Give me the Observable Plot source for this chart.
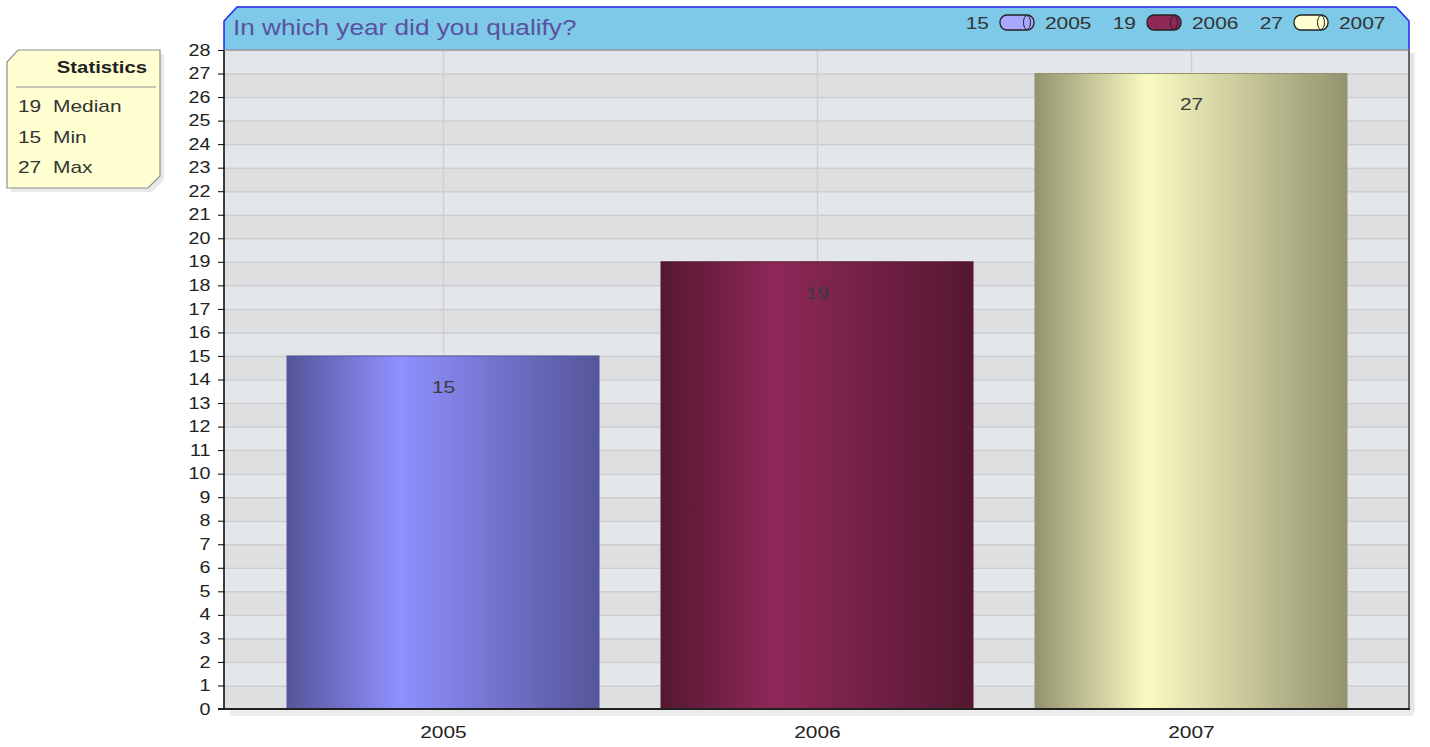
<!DOCTYPE html>
<html>
<head>
<meta charset="utf-8">
<script src="https://cdn.jsdelivr.net/npm/d3@7"></script>
<script src="https://cdn.jsdelivr.net/npm/@observablehq/plot@0.6"></script>
<style>
  html, body { margin: 0; padding: 0; background: #ffffff; }
  #chart svg { display: block; font-family: "Liberation Sans", Arial, sans-serif; }
</style>
</head>
<body>
<div id="chart"></div>
<script>
// ---- data ----
const years = ["2005", "2006", "2007"];
const counts = [15, 19, 27];
const barEdge = ["#55559a", "#541830", "#93936f"];
const barMid = ["#9090ff", "#8f2859", "#fafac2"];
const legendFill = ["#a8a8ff", "#8e2857", "#ffffd2"];
const statLabels = ["Median", "Min", "Max"];
const statValues = [19, 15, 27];
const yTicks = d3.range(0, 29);
const title = "In which year did you qualify?";
const statsTitle = "Statistics";

const data = years.map((y, i) => ({year: y, count: counts[i], i}));
const stripes = d3.range(0, 28).map(v => ({v}));

const W = 1430, H = 747;
const ML = 224, MR = 21, MT = 50, MB = 38;
const STRETCH = 1.23; // reference text is horizontally wide

const defsMark = () => {
  const ns = "http://www.w3.org/2000/svg";
  const defs = document.createElementNS(ns, "defs");
  years.forEach((y, i) => {
    const g = document.createElementNS(ns, "linearGradient");
    g.setAttribute("id", "g" + y);
    g.setAttribute("x1", "0"); g.setAttribute("x2", "1");
    g.setAttribute("y1", "0"); g.setAttribute("y2", "0");
    [[0, barEdge[i]], [0.36, barMid[i]], [1, barEdge[i]]].forEach(([o, c]) => {
      const s = document.createElementNS(ns, "stop");
      s.setAttribute("offset", o); s.setAttribute("stop-color", c);
      g.appendChild(s);
    });
    defs.appendChild(g);
  });
  return defs;
};

const plot = Plot.plot({
  width: W, height: H,
  marginLeft: ML, marginRight: MR, marginTop: MT, marginBottom: MB,
  style: {background: "transparent", fontFamily: "Liberation Sans, Arial, sans-serif", fontSize: "15px", color: "#333"},
  x: {domain: years, padding: 0.166, label: null},
  y: {domain: [0, 28], label: null},
  marks: [
    defsMark,
    Plot.rect(stripes, {y1: "v", y2: d => d.v + 1, fill: d => d.v % 2 === 0 ? "#dedfe1" : "#e4e7ea"}),
    Plot.ruleY(d3.range(1, 29), {stroke: "#cdcdcf", strokeWidth: 1.5}),
    Plot.ruleX(years, {stroke: "#cfcfd2", strokeWidth: 1.5}),
    ...data.map(d => Plot.barY([d], {x: "year", y: "count", fill: `url(#g${d.year})`, stroke: barEdge[d.i], strokeWidth: 1})),
    Plot.text(data, {x: "year", y: "count", text: d => String(d.count), dy: 31, fontSize: 17, fill: "#3a3a3a"}),
    Plot.axisY({ticks: yTicks, tickSize: 6, tickPadding: 8, tickFormat: d => String(d), stroke: "#000", fontSize: 16}),
    Plot.axisX({tickSize: 6, tickPadding: 10, stroke: "#000", fontSize: 17})
  ]
});

document.getElementById("chart").appendChild(plot);

// widen Plot's own texts horizontally around their anchor (reference text is wide)
function widen(sel) {
  sel.each(function() {
    const t = d3.select(this);
    let x = parseFloat(t.attr("x")); if (!isFinite(x)) x = 0;
    let y = parseFloat(t.attr("y")); if (!isFinite(y)) y = 0;
    const tr = t.attr("transform") || "";
    t.attr("transform", `${tr} translate(${x} ${y}) scale(${STRETCH} 1) translate(${-x} ${-y})`.trim());
  });
}

// ---- decorations ----
const svg = d3.select(plot);
svg.selectAll('[aria-label="y-axis tick label"]').attr("font-size", 16).attr("fill", "#222");
svg.selectAll('[aria-label="x-axis tick label"]').attr("font-size", 17).attr("fill", "#222");
widen(svg.selectAll("text"));
const x0 = ML, x1 = W - MR, yTop = MT, yBot = H - MB;

// right border with shadow
svg.append("line").attr("x1", x1 + 3).attr("x2", x1 + 3).attr("y1", yTop + 3).attr("y2", yBot + 4)
  .attr("stroke", "#e6e6e6").attr("stroke-width", 5);
svg.append("line").attr("x1", x0 + 6).attr("x2", x1 + 4).attr("y1", yBot + 4).attr("y2", yBot + 4)
  .attr("stroke", "#ececec").attr("stroke-width", 6);
svg.append("line").attr("x1", x1).attr("x2", x1).attr("y1", yTop).attr("y2", yBot)
  .attr("stroke", "#666").attr("stroke-width", 2);
// axes lines
svg.append("line").attr("x1", x0).attr("x2", x0).attr("y1", yTop).attr("y2", yBot + 1)
  .attr("stroke", "#000").attr("stroke-width", 1.5);
svg.append("line").attr("x1", x0 - 6).attr("x2", x1 + 1).attr("y1", yBot).attr("y2", yBot)
  .attr("stroke", "#222").attr("stroke-width", 2);

// helper for own texts: positioned by transform so the stretch is anchored
function addText(parent, x, y, str, size, anchor, fill, weight) {
  return parent.append("text")
    .attr("transform", `translate(${x},${y}) scale(${STRETCH},1)`)
    .attr("text-anchor", anchor).attr("font-size", size).attr("fill", fill)
    .attr("font-weight", weight || "normal").text(str);
}

// title band
const band = svg.append("g");
band.append("path")
  .attr("d", `M${x0},${yTop} L${x0},21 L${x0 + 13},7 L${x1 - 13},7 L${x1},21 L${x1},${yTop} Z`)
  .attr("fill", "#7ec8e8");
band.append("path")
  .attr("d", `M${x0},${yTop} L${x0},21 L${x0 + 13},7 L${x1 - 13},7 L${x1},21 L${x1},${yTop}`)
  .attr("fill", "none").attr("stroke", "#1f24f0").attr("stroke-width", 1.5);
band.append("line").attr("x1", x0).attr("x2", x1).attr("y1", yTop).attr("y2", yTop)
  .attr("stroke", "#8a8a8a").attr("stroke-width", 1.2);
addText(band, 233, 35, title, 21.3, "start", "#5a52a0");

// legend
const legX = [989, 1136, 1283];
years.forEach((y, i) => {
  addText(band, legX[i], 29, String(counts[i]), 17, "end", "#333");
  band.append("rect").attr("x", legX[i] + 11).attr("y", 15).attr("width", 34).attr("height", 15).attr("rx", 7)
    .attr("fill", legendFill[i]).attr("stroke", "#222").attr("stroke-width", 1.3);
  band.append("ellipse").attr("cx", legX[i] + 38).attr("cy", 22.5).attr("rx", 3.5).attr("ry", 7)
    .attr("fill", legendFill[i]).attr("stroke", "#222").attr("stroke-width", 1);
  addText(band, legX[i] + 56, 29, y, 17, "start", "#333");
});

// statistics box
const sb = svg.append("g");
sb.append("path").attr("d", "M11,66 L22,54 L164,54 L164,180 L152,192 L11,192 Z").attr("fill", "#e8e8e8");
sb.append("path").attr("d", "M7,62 L18,50 L160,50 L160,176 L148,188 L7,188 Z")
  .attr("fill", "#ffffd2").attr("stroke", "#8f8f8f").attr("stroke-width", 1.2);
addText(sb, 147, 73, statsTitle, 16.5, "end", "#222", "bold");
sb.append("line").attr("x1", 16).attr("x2", 156).attr("y1", 87).attr("y2", 87)
  .attr("stroke", "#c8c8b8").attr("stroke-width", 2);
statLabels.forEach((l, i) => {
  const yy = 112 + i * 30.5;
  addText(sb, 18, yy, String(statValues[i]), 17, "start", "#333");
  addText(sb, 53, yy, l, 17, "start", "#333");
});
</script>
</body>
</html>
